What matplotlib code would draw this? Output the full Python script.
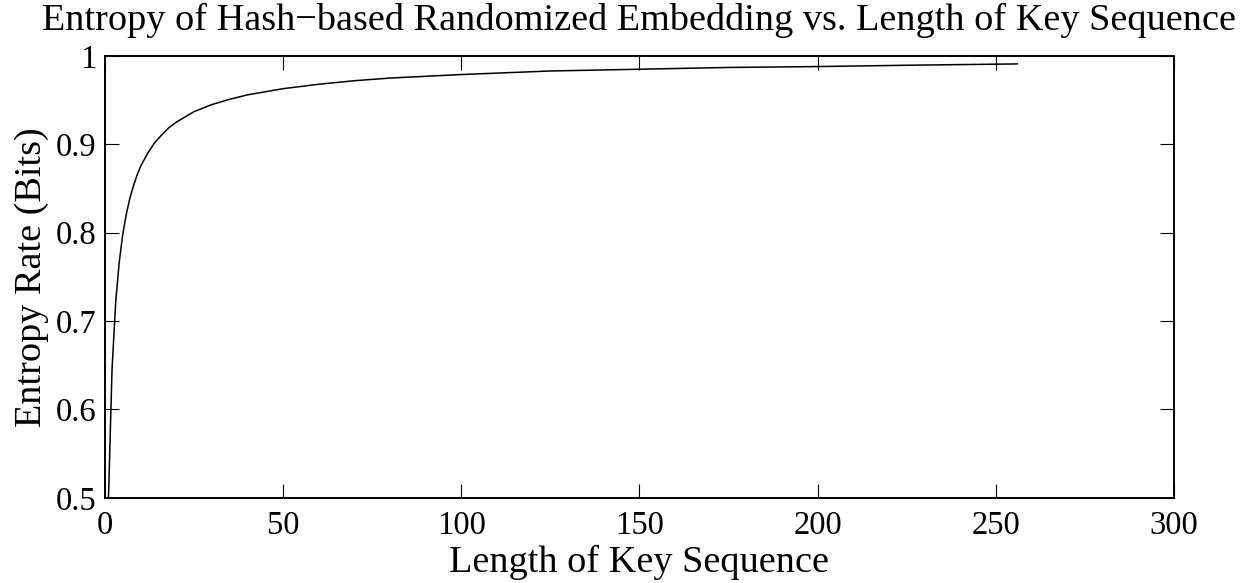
import numpy as np
import matplotlib
matplotlib.use("Agg")
import matplotlib.pyplot as plt

plt.rcParams['font.family'] = ['Liberation Serif', 'DejaVu Serif']

# key sequence length and the entropy rate read for it
key_length = [1, 2, 3, 4, 5, 6, 7, 8, 9, 10, 12, 14, 16, 18, 20, 25, 30, 35, 40,
              50, 60, 70, 80, 100, 125, 150, 175, 200, 225, 256]
entropy_rate = [0.500, 0.646, 0.720, 0.766, 0.798, 0.821, 0.839, 0.853, 0.865, 0.875,
                0.890, 0.902, 0.911, 0.919, 0.925, 0.937, 0.945, 0.951, 0.956,
                0.963, 0.968, 0.972, 0.975, 0.979, 0.983, 0.985, 0.987, 0.988, 0.9895, 0.991]

x_ticks = [0, 50, 100, 150, 200, 250, 300]
y_ticks = [0.5, 0.6, 0.7, 0.8, 0.9, 1.0]
y_tick_labels = ['0.5', '0.6', '0.7', '0.8', '0.9', '1']

fig = plt.figure(figsize=(12.49, 5.83), dpi=100)
ax = fig.add_axes([0.084, 0.146, 0.856, 0.758])

ax.plot(key_length, entropy_rate, color='black', linewidth=1.1)

ax.set_xlim(0, 300)
ax.set_ylim(0.5, 1.0)
ax.set_xticks(x_ticks)
ax.set_yticks(y_ticks)
ax.set_yticklabels(y_tick_labels)
ax.tick_params(direction='in', length=10, width=0.8, top=True, right=True,
               labelsize=23.5)
ax.tick_params(axis='x', pad=9)
ax.tick_params(axis='y', pad=6)
for s in ax.spines.values():
    s.set_linewidth(1.4)

ax.set_title('Entropy of Hash\u2212based Randomized Embedding vs. Length of Key Sequence',
             fontsize=27.5, pad=19)
ax.set_xlabel('Length of Key Sequence', fontsize=27.5, labelpad=3)
ax.set_ylabel('Entropy Rate (Bits)', fontsize=27.5, labelpad=5)

fig.savefig('out.png', dpi=100)
